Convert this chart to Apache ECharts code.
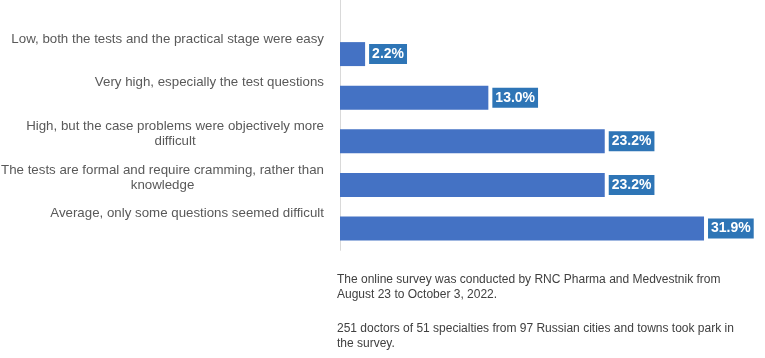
<!DOCTYPE html>
<html>
<head>
<meta charset="utf-8">
<script src="https://cdn.jsdelivr.net/npm/echarts@6/dist/echarts.min.js"></script>
<style>
  html, body { margin: 0; padding: 0; background: #ffffff; }
  #chart { width: 765px; height: 358px; }
</style>
</head>
<body>
<div id="chart"></div>
<script>
const categories = [
  'Low, both the tests and the practical stage were easy',
  'Very high, especially the test questions',
  'High, but the case problems were objectively more\ndifficult',
  'The tests are formal and require cramming, rather than\nknowledge',
  'Average, only some questions seemed difficult'
];
const values = [2.2, 13.0, 23.2, 23.2, 31.9];
const noteParagraph1 = 'The online survey was conducted by RNC Pharma and Medvestnik from\nAugust 23 to October 3, 2022.';
const noteParagraph2 = '251 doctors of 51 specialties from 97 Russian cities and towns took park in\nthe survey.';

const chart = echarts.init(document.getElementById('chart'), null, { renderer: 'canvas' });

function formatCategory(label) {
  const lines = label.split('\n');
  while (lines.length < 3) lines.push(' ');
  return lines.map((l, i) => (i === 0 ? l : '{c|' + l + '}')).join('\n');
}

const FONT = 'Liberation Sans, Arial, sans-serif';
const catFont = 13.3;

const option = {
  animation: false,
  backgroundColor: '#ffffff',
  title: [
    {
      text: noteParagraph1,
      left: 337, top: 272.5, padding: 0,
      textStyle: { fontFamily: FONT, fontSize: 12, fontWeight: 'normal', color: '#404040', lineHeight: 15 }
    },
    {
      text: noteParagraph2,
      left: 337, top: 321, padding: 0,
      textStyle: { fontFamily: FONT, fontSize: 12, fontWeight: 'normal', color: '#404040', lineHeight: 15 }
    }
  ],
  grid: [
    { left: 340, right: 25.6, top: 32.3, height: 218, containLabel: false, outerBoundsMode: 'none' },
    { left: 340, top: 0, height: 33, width: 10, containLabel: false, outerBoundsMode: 'none' }
  ],
  xAxis: [
    { type: 'value', gridIndex: 0, min: 0, max: 35, show: false },
    { type: 'value', gridIndex: 1, min: 0, max: 1, show: false }
  ],
  yAxis: [
    {
      type: 'category', gridIndex: 0, inverse: true, data: categories,
      axisLine: { show: true, lineStyle: { color: '#D9D9D9', width: 1 } },
      axisTick: { show: false },
      axisLabel: {
        interval: 0, margin: 16, align: 'right', verticalAlign: 'middle',
        fontFamily: FONT, fontSize: catFont, color: '#595959', lineHeight: 15,
        formatter: formatCategory,
        rich: { c: { align: 'center', fontFamily: FONT, fontSize: catFont, color: '#595959', lineHeight: 15 } }
      }
    },
    {
      type: 'category', gridIndex: 1, data: [''],
      axisLine: { show: true, lineStyle: { color: '#D9D9D9', width: 1 } },
      axisTick: { show: false }, axisLabel: { show: false }
    }
  ],
  series: [
    {
      type: 'bar', xAxisIndex: 0, yAxisIndex: 0, data: values,
      barCategoryGap: '45%',
      itemStyle: { color: '#4472C4' },
      label: {
        show: true, position: 'right', distance: 4,
        formatter: p => p.value.toFixed(1) + '%',
        fontFamily: FONT, fontSize: 14, fontWeight: 'bold', color: '#ffffff',
        backgroundColor: '#2E75B6', padding: [3, 3, 3, 3], lineHeight: 14
      }
    }
  ]
};
chart.setOption(option);
</script>
</body>
</html>
